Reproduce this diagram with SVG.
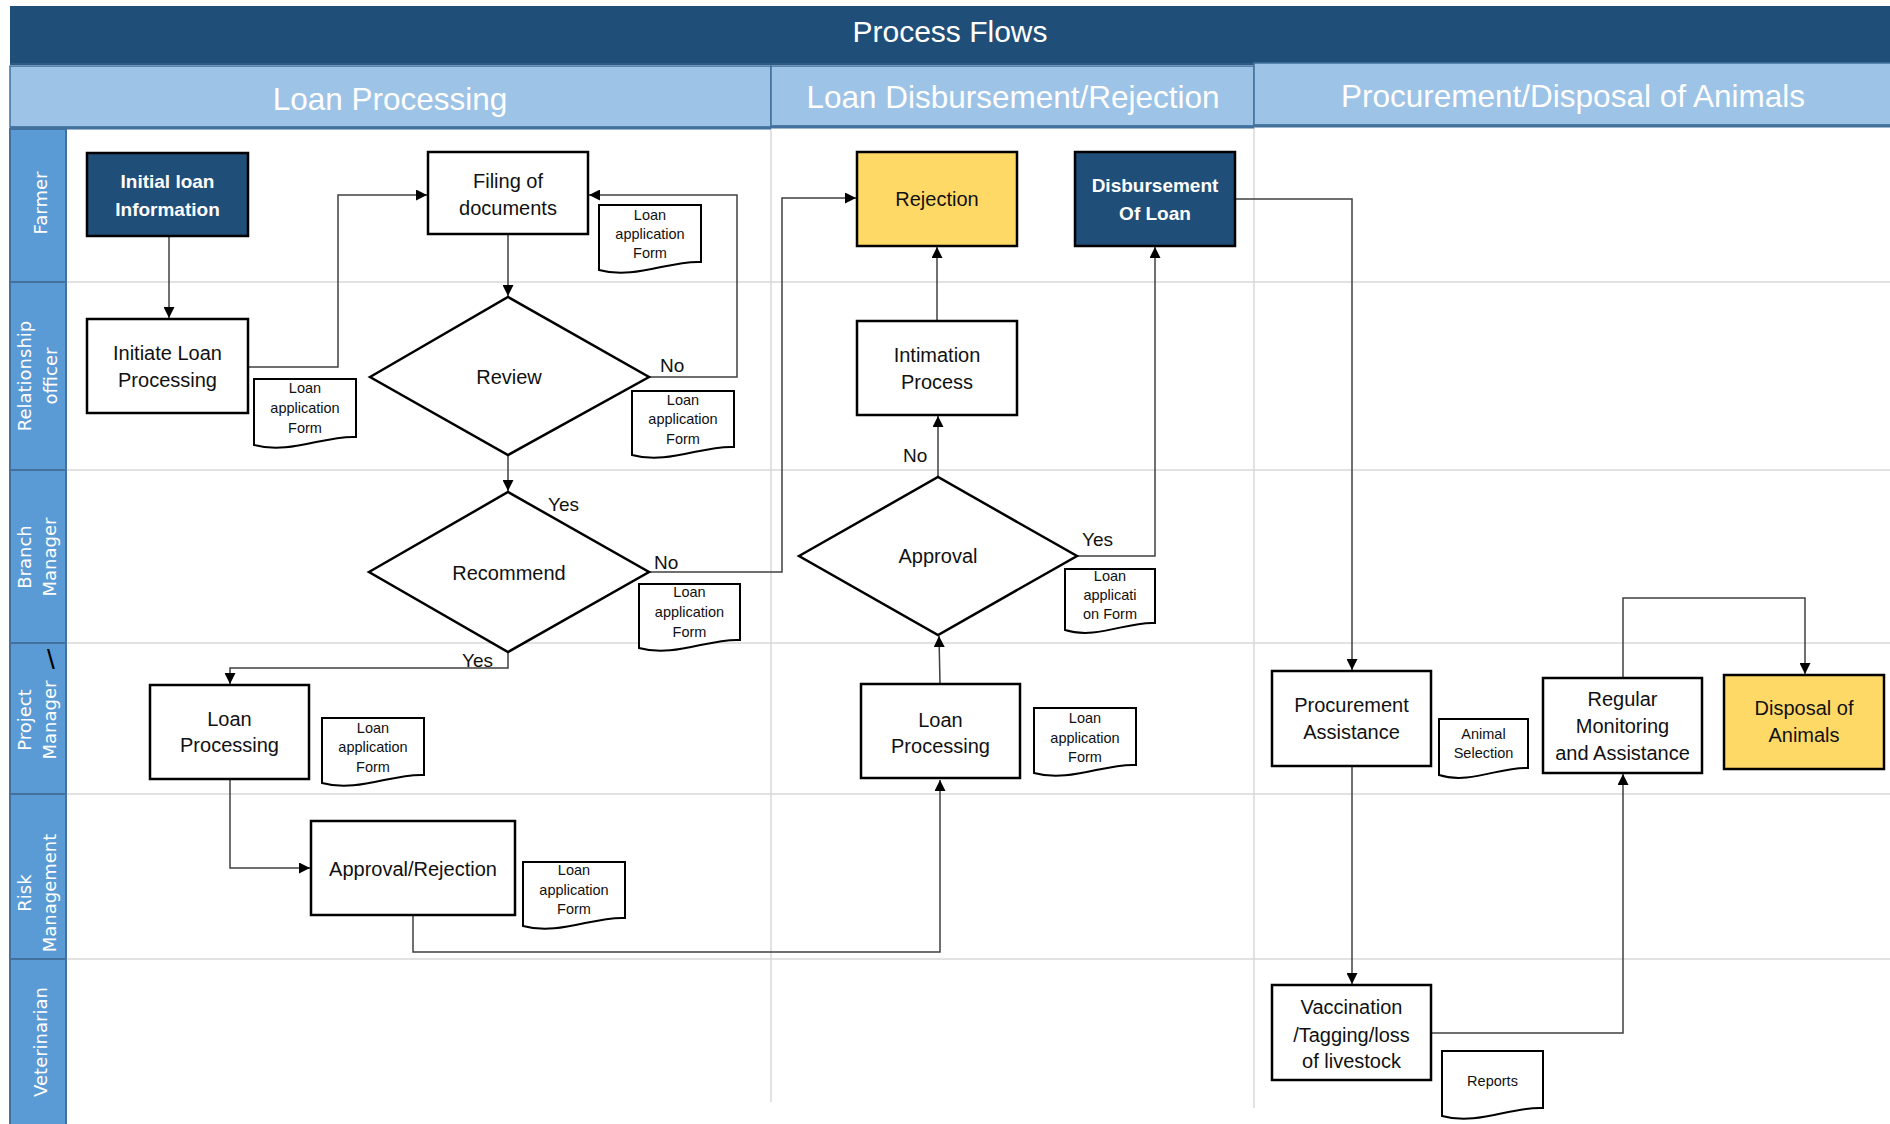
<svg xmlns="http://www.w3.org/2000/svg" width="1890" height="1124" viewBox="0 0 1890 1124">
<defs>
<style>
.box{stroke:#000;stroke-width:2.5;fill:#fff}
.dark{fill:#1F4E79}
.gold{fill:#FFD966}
.doc{fill:#fff;stroke:#000;stroke-width:2}
.dia{fill:#fff;stroke:#000;stroke-width:2.5}
.t{font-family:"Liberation Sans",Arial,sans-serif;font-size:20px;fill:#111;text-anchor:middle}
.tb{font-weight:bold;fill:#fff;font-size:19px}
.ts{font-size:14.5px}
.lbl{font-family:"Liberation Sans",Arial,sans-serif;font-size:19px;fill:#111}
.lane{fill:#5B9BD5;stroke:#41719C;stroke-width:2}
.lt{font-family:"DejaVu Sans",Verdana,sans-serif;font-size:18px;fill:#fff;text-anchor:middle}
.hd{fill:#9DC3E6;stroke:#41719C;stroke-width:1.5}
.ht{font-family:"Liberation Sans",Arial,sans-serif;font-size:31.5px;fill:#fff;text-anchor:middle}
.grid{stroke:#D9D9D9;stroke-width:1.5;fill:none}
.conn{fill:none;stroke:#404040;stroke-width:1.5;marker-end:url(#arr)}
</style>
<marker id="arr" markerUnits="userSpaceOnUse" markerWidth="11" markerHeight="11" viewBox="0 0 10 10" refX="10" refY="5" orient="auto">
<path d="M0,0 L10,5 L0,10 z" fill="#000"/>
</marker>
</defs>
<rect width="1890" height="1124" fill="#fff"/>

<g id="grid">
<line class="grid" x1="66" y1="282" x2="1890" y2="282"/>
<line class="grid" x1="66" y1="470" x2="1890" y2="470"/>
<line class="grid" x1="66" y1="643" x2="1890" y2="643"/>
<line class="grid" x1="66" y1="794" x2="1890" y2="794"/>
<line class="grid" x1="66" y1="959" x2="1890" y2="959"/>
<line class="grid" x1="771" y1="128" x2="771" y2="1102"/>
<line class="grid" x1="1254" y1="127" x2="1254" y2="1108"/>
</g>

<g id="title">
<rect x="10" y="6" width="1880" height="58" fill="#1F4E79"/>
<line x1="10" y1="64" x2="1890" y2="64" stroke="#2E5A87" stroke-width="2"/>
<text class="ht" x="950" y="42" style="font-size:30px">Process Flows</text>
</g>

<g id="header-loan-processing">
<rect class="hd" x="10" y="66" width="761" height="61"/>
<line x1="10" y1="128" x2="771" y2="128" stroke="#41719C" stroke-width="3"/>
<text class="ht" x="390" y="110">Loan Processing</text>
</g>
<g id="header-loan-disbursement">
<rect class="hd" x="771" y="66" width="483" height="60"/>
<line x1="771" y1="127" x2="1254" y2="127" stroke="#41719C" stroke-width="3"/>
<text class="ht" x="1013" y="108">Loan Disbursement/Rejection</text>
</g>
<g id="header-procurement">
<rect class="hd" x="1254" y="63" width="640" height="62"/>
<line x1="1254" y1="126" x2="1890" y2="126" stroke="#41719C" stroke-width="3"/>
<text class="ht" x="1573" y="107">Procurement/Disposal of Animals</text>
</g>

<g id="lane-farmer">
<rect class="lane" x="10" y="129" width="56" height="153"/>
<text class="lt" transform="translate(47,203) rotate(-90)">Farmer</text>
</g>
<g id="lane-relationship-officer">
<rect class="lane" x="10" y="282" width="56" height="188"/>
<text class="lt" transform="translate(31,376) rotate(-90)">Relationship</text>
<text class="lt" transform="translate(57,376) rotate(-90)">officer</text>
</g>
<g id="lane-branch-manager">
<rect class="lane" x="10" y="470" width="56" height="173"/>
<text class="lt" transform="translate(31,557) rotate(-90)">Branch</text>
<text class="lt" transform="translate(56,557) rotate(-90)">Manager</text>
</g>
<g id="lane-project-manager">
<rect class="lane" x="10" y="643" width="56" height="151"/>
<text class="lt" transform="translate(31,720) rotate(-90)">Project</text>
<text class="lt" transform="translate(56,720) rotate(-90)">Manager</text>
<text x="51" y="669" font-family="Liberation Sans, Arial, sans-serif" font-size="28" fill="#000" text-anchor="middle">\</text>
</g>
<g id="lane-risk-management">
<rect class="lane" x="10" y="794" width="56" height="165"/>
<text class="lt" transform="translate(31,893) rotate(-90)">Risk</text>
<text class="lt" transform="translate(56,893) rotate(-90)">Management</text>
</g>
<g id="lane-veterinarian">
<rect class="lane" x="10" y="959" width="56" height="166"/>
<text class="lt" transform="translate(47,1042) rotate(-90)">Veterinarian</text>
</g>

<g id="connectors">
<path class="conn" d="M169,236 V318"/>
<path class="conn" d="M248,367 H338 V195 H427"/>
<path class="conn" d="M508,234 V296"/>
<path class="conn" d="M649,377 H737 V195 H589"/>
<path class="conn" d="M508,455 V491"/>
<path class="conn" d="M649,572 H782 V198 H856"/>
<path class="conn" d="M508,652 V668 H230 V684"/>
<path class="conn" d="M230,779 V868 H310"/>
<path class="conn" d="M413,915 V952 H940 V780"/>
<path class="conn" d="M940,684 L939,636"/>
<path class="conn" d="M938,477 V416"/>
<path class="conn" d="M937,321 V247"/>
<path class="conn" d="M1077,556 H1155 V247"/>
<path class="conn" d="M1235,199 H1352 V670"/>
<path class="conn" d="M1352,766 V984"/>
<path class="conn" d="M1431,1033 H1623 V774"/>
<path class="conn" d="M1623,678 V598 H1805 V674"/>
<text class="lbl" x="660" y="372">No</text>
<text class="lbl" x="548" y="511">Yes</text>
<text class="lbl" x="654" y="569">No</text>
<text class="lbl" x="462" y="667">Yes</text>
<text class="lbl" x="903" y="462">No</text>
<text class="lbl" x="1082" y="546">Yes</text>
</g>

<g id="node-initial-loan">
<rect class="box dark" x="87" y="153" width="161" height="83"/>
<text class="t tb" x="167.5" y="188">Initial loan</text>
<text class="t tb" x="167.5" y="216">Information</text>
</g>
<g id="node-filing">
<rect class="box" x="428" y="152" width="160" height="82"/>
<text class="t" x="508" y="188">Filing of</text>
<text class="t" x="508" y="215">documents</text>
</g>
<g id="doc-filing">
<path class="doc" d="M599,205 H701 V262 C670.4,260 634.7,280 599,270 Z"/>
<text class="t ts" x="650" y="220">Loan</text>
<text class="t ts" x="650" y="239">application</text>
<text class="t ts" x="650" y="258">Form</text>
</g>
<g id="node-initiate">
<rect class="box" x="87" y="319" width="161" height="94"/>
<text class="t" x="167.5" y="360">Initiate Loan</text>
<text class="t" x="167.5" y="387">Processing</text>
</g>
<g id="doc-initiate">
<path class="doc" d="M254,379 H356 V437 C325.4,435 289.7,455 254,445 Z"/>
<text class="t ts" x="305" y="393">Loan</text>
<text class="t ts" x="305" y="413">application</text>
<text class="t ts" x="305" y="433">Form</text>
</g>
<g id="node-review">
<polygon class="dia" points="370,377 508,297 649,377 508,455"/>
<text class="t" x="509" y="384">Review</text>
</g>
<g id="doc-review">
<path class="doc" d="M632,391 H734 V447 C703.4,445 667.7,465 632,455 Z"/>
<text class="t ts" x="683" y="405">Loan</text>
<text class="t ts" x="683" y="424">application</text>
<text class="t ts" x="683" y="444">Form</text>
</g>
<g id="node-recommend">
<polygon class="dia" points="369,572 508,492 649,572 508,652"/>
<text class="t" x="509" y="580">Recommend</text>
</g>
<g id="doc-recommend">
<path class="doc" d="M639,584 H740 V640 C709.7,638 674.35,658 639,648 Z"/>
<text class="t ts" x="689.5" y="597">Loan</text>
<text class="t ts" x="689.5" y="617">application</text>
<text class="t ts" x="689.5" y="637">Form</text>
</g>
<g id="node-loan-processing-1">
<rect class="box" x="150" y="685" width="159" height="94"/>
<text class="t" x="229.5" y="726">Loan</text>
<text class="t" x="229.5" y="752">Processing</text>
</g>
<g id="doc-loan-processing-1">
<path class="doc" d="M322,718 H424 V775 C393.4,773 357.7,793 322,783 Z"/>
<text class="t ts" x="373" y="733">Loan</text>
<text class="t ts" x="373" y="752">application</text>
<text class="t ts" x="373" y="772">Form</text>
</g>
<g id="node-approval-rejection">
<rect class="box" x="311" y="821" width="204" height="94"/>
<text class="t" x="413" y="876">Approval/Rejection</text>
</g>
<g id="doc-approval-rejection">
<path class="doc" d="M523,862 H625 V918 C594.4,916 558.7,936 523,926 Z"/>
<text class="t ts" x="574" y="875">Loan</text>
<text class="t ts" x="574" y="895">application</text>
<text class="t ts" x="574" y="914">Form</text>
</g>
<g id="node-rejection">
<rect class="box gold" x="857" y="152" width="160" height="94"/>
<text class="t" x="937" y="206">Rejection</text>
</g>
<g id="node-disbursement">
<rect class="box dark" x="1075" y="152" width="160" height="94"/>
<text class="t tb" x="1155" y="192">Disbursement</text>
<text class="t tb" x="1155" y="220">Of Loan</text>
</g>
<g id="node-intimation">
<rect class="box" x="857" y="321" width="160" height="94"/>
<text class="t" x="937" y="362">Intimation</text>
<text class="t" x="937" y="389">Process</text>
</g>
<g id="node-approval">
<polygon class="dia" points="799,556 938,477 1077,556 938,635"/>
<text class="t" x="938" y="563">Approval</text>
</g>
<g id="doc-approval">
<path class="doc" d="M1065,569 H1155 V623 C1128,621 1096.5,640 1065,630 Z"/>
<text class="t ts" x="1110" y="581">Loan</text>
<text class="t ts" x="1110" y="600">applicati</text>
<text class="t ts" x="1110" y="619">on Form</text>
</g>
<g id="node-loan-processing-2">
<rect class="box" x="861" y="684" width="159" height="94"/>
<text class="t" x="940.5" y="727">Loan</text>
<text class="t" x="940.5" y="753">Processing</text>
</g>
<g id="doc-loan-processing-2">
<path class="doc" d="M1034,708 H1136 V765 C1105.4,763 1069.7,783 1034,773 Z"/>
<text class="t ts" x="1085" y="723">Loan</text>
<text class="t ts" x="1085" y="743">application</text>
<text class="t ts" x="1085" y="762">Form</text>
</g>
<g id="node-procurement">
<rect class="box" x="1272" y="671" width="159" height="95"/>
<text class="t" x="1351.5" y="712">Procurement</text>
<text class="t" x="1351.5" y="739">Assistance</text>
</g>
<g id="doc-animal-selection">
<path class="doc" d="M1439,719 H1528 V768 C1501.3,766 1470.15,785 1439,775 Z"/>
<text class="t ts" x="1483.5" y="739">Animal</text>
<text class="t ts" x="1483.5" y="758">Selection</text>
</g>
<g id="node-regular-monitoring">
<rect class="box" x="1543" y="678" width="159" height="95"/>
<text class="t" x="1622.5" y="706">Regular</text>
<text class="t" x="1622.5" y="733">Monitoring</text>
<text class="t" x="1622.5" y="760">and Assistance</text>
</g>
<g id="node-disposal">
<rect class="box gold" x="1724" y="675" width="160" height="94"/>
<text class="t" x="1804" y="715">Disposal of</text>
<text class="t" x="1804" y="742">Animals</text>
</g>
<g id="node-vaccination">
<rect class="box" x="1272" y="985" width="159" height="95"/>
<text class="t" x="1351.5" y="1014">Vaccination</text>
<text class="t" x="1351.5" y="1042">/Tagging/loss</text>
<text class="t" x="1351.5" y="1068">of livestock</text>
</g>
<g id="doc-reports">
<path class="doc" d="M1442,1051 H1543 V1108 C1512.7,1106 1477.35,1126 1442,1116 Z"/>
<text class="t ts" x="1492.5" y="1086">Reports</text>
</g>
</svg>
